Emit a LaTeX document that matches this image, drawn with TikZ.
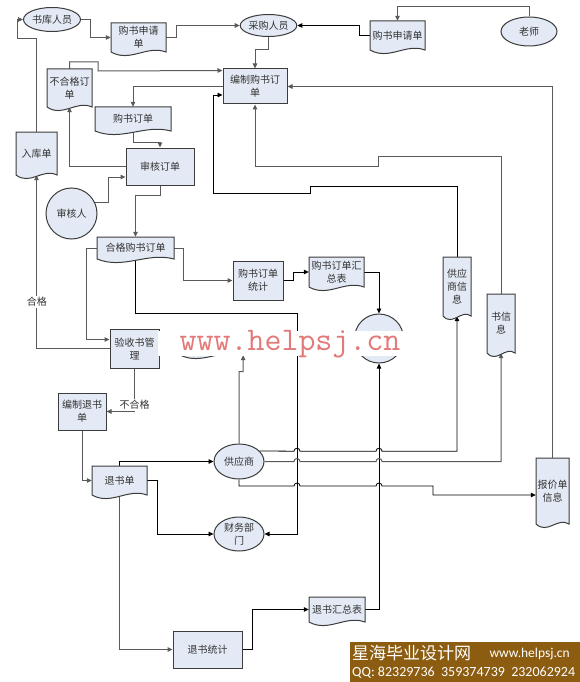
\documentclass[tikz,border=0pt]{standalone}
\usepackage{fontspec}
\newfontfamily\cjkfont{Noto Sans CJK SC}
\newfontfamily\carlfont{Carlito}
\usetikzlibrary{arrows.meta,shapes.geometric,calc}
\pgfdeclarelayer{bg}\pgfdeclarelayer{fg}\pgfsetlayers{bg,main,fg}
\definecolor{shapefill}{RGB}{228,234,245}
\definecolor{shapeline}{RGB}{60,60,60}
\definecolor{linegray}{RGB}{90,90,90}
\definecolor{txt}{RGB}{50,50,50}
\definecolor{wm}{RGB}{226,122,122}
\definecolor{banner}{RGB}{140,92,16}
\tikzset{
  lbl/.style={font=\cjkfont\fontsize{10}{13}\selectfont, text=txt, align=center, inner sep=0pt},
  procbox/.style={lbl, rectangle, draw=shapeline, fill=shapefill, line width=1pt},
  ellbox/.style={lbl, ellipse, draw=shapeline, fill=shapefill, line width=1pt},
  circbox/.style={lbl, circle, draw=shapeline, fill=shapefill, line width=1pt},
  docstyle/.style={draw=shapeline, fill=shapefill, line width=1pt, line join=miter},
  conn/.style={draw=linegray, line width=1pt, -{Triangle[length=5pt,width=4.5pt]}},
  connb/.style={draw=black, line width=0.8pt, -{Triangle[length=5pt,width=4.5pt]}},
  edgelbl/.style={lbl, fill=white, inner sep=1pt}
}
\newcommand\rectnode[6]{%
  \pgfmathsetmacro\rcx{(#2+#4)/2}\pgfmathsetmacro\rcy{(#3+#5)/2}%
  \pgfmathsetmacro\rw{#4-#2}\pgfmathsetmacro\rh{#5-#3}%
  \node[procbox, minimum width=\rw pt, minimum height=\rh pt] (#1) at (\rcx,\rcy) {#6};}
\newcommand\ellnode[6]{%
  \node[ellbox, minimum width=#4pt, minimum height=#5pt] (#1) at (#2,#3) {#6};}
\newcommand\docnode[6]{%
  \pgfmathsetmacro\dw{#4-#2}\pgfmathsetmacro\dh{#5-#3}%
  \pgfmathsetmacro\dcx{(#2+#4)/2}\pgfmathsetmacro\dcy{(#3+#5)/2}%
  \pgfmathsetmacro\dca{#2+0.35*\dw}\pgfmathsetmacro\dcb{#2+0.65*\dw}%
  \pgfmathsetmacro\dya{#5+10.8}\pgfmathsetmacro\dyb{#5-7.2}%
  \draw[docstyle] (#2,#3) -- (#4,#3) -- (#4,#5) .. controls (\dcb,\dyb) and (\dca,\dya) .. (#2,#5) -- cycle;
  \node[lbl, minimum width=\dw pt, minimum height=\dh pt] (#1) at (\dcx,\dcy) {#6};}
\begin{document}
\begin{tikzpicture}[x=1pt,y=-1pt]
\useasboundingbox (0,0) rectangle (580,682);
% ---------- nodes ----------
\ellnode{shuku}{52}{19.5}{57}{24}{书库人员}
\docnode{sqd1}{111}{23}{166}{52}{购书申请\\单}
\ellnode{caigou}{268.5}{25.5}{55}{22}{采购人员}
\docnode{sqd2}{370}{21}{425}{50}{购书申请单}
\ellnode{laoshi}{529}{31.5}{56}{29}{老师}
\rectnode{bzgsdd}{223}{69}{287}{104}{编制购书订\\单}
\docnode{bhg}{47}{69}{92}{107}{不合格订\\单}
\docnode{gsdd}{95}{107}{171}{131}{购书订单}
\rectnode{shdd}{126}{148}{194}{185}{审核订单}
\docnode{rkd}{16}{132}{57}{175}{入库单}
\node[circbox, minimum size=51pt] (shr) at (71.5,213.5) {审核人};
\docnode{hggsdd}{97}{237}{174}{259}{合格购书订单}
\rectnode{gsddtj}{233}{261}{283}{300}{购书订单\\统计}
\docnode{hzb}{309}{257}{364}{287}{购书订单汇\\总表}
\docnode{gysxx}{443}{257}{471}{316}{供应\\商信\\息}
\docnode{sxx}{487}{294}{515}{353}{书信\\息}
\node[circbox, minimum size=49pt] (store) at (379,338.5) {};
\rectnode{ysgl}{110}{329}{159}{368}{验收书管\\理}
\docnode{hid}{180}{332}{243}{355}{}
\rectnode{bzts}{58}{393}{106}{430}{编制退书\\单}
\docnode{tsd}{92}{466}{147}{495}{退书单}
\ellnode{gys}{239}{461.5}{50}{35}{供应商}
\ellnode{cwbm}{239}{534}{50}{34}{财务部\\门}
\rectnode{tstj}{173}{631}{242}{668}{退书统计}
\docnode{tshzb}{309}{597}{365}{622}{退书汇总表}
\docnode{bjd}{536}{458}{569}{524}{报价单\\信息}
\node[edgelbl] (lhg) at (37,302) {合格};
\node[edgelbl] (lbhg) at (134.5,405) {不合格};
% ---------- connectors ----------
\begin{pgfonlayer}{bg}
\fill[white] (0,0) rectangle (580,682);
\draw[conn] (shuku.east) -- ++(9,0) |- (sqd1.west);
\draw[conn] (sqd1.east) -- ++(10,0) |- (caigou.west);
\draw[connb] (sqd2.west) -- ++(-10,0) |- (caigou.east);
\draw[conn] (laoshi.north) -- ++(0,-10) -| (sqd2.north);
\draw[conn] (caigou.south) -- ++(0,13) -| (bzgsdd.north);
\draw[conn] (bhg.north) -- ++(0,-7) -| (98,71) -- ([yshift=-2pt]bzgsdd.north west);
\draw[conn] (bzgsdd.west) -| (gsdd.north);
\draw[conn] (gsdd.south) -- ++(0,11) -| (shdd.north);
\draw[conn] (shdd.west) -| (bhg.south);
\draw[conn] (shr.25) -| (108,177) -- ([yshift=-10.5pt]shdd.west);
\draw[conn] (shdd.south) -- ++(0,10) -| (hggsdd.north);
\draw[conn] (hggsdd.west) -- ++(-10,0) |- ([yshift=9pt]ysgl.west);
\draw[conn] (hggsdd.east) -- ++(9,0) |- (gsddtj.west);
\draw[connb] (hggsdd.south) |- (297,313) |- (cwbm.east);
\draw[connb] (gsddtj.east) -- ++(10,0) |- (hzb.west);
\draw[connb] (hzb.east) -| (store.north);
\draw[connb] (tshzb.east) -| (store.south);
\draw[conn] (ysgl.west) -| (rkd.south);
\draw[conn] (rkd.north) |- (17,39) |- (shuku.west);
\draw[conn] (ysgl.south) |- (bzts.east);
\draw[conn] (bzts.south) |- (tsd.west);
\draw[connb] (tsd.north) |- (gys.west);
\draw[connb] (tsd.east) -- ++(10,0) |- (cwbm.west);
\draw[conn] (tsd.south) |- (tstj.west);
\draw[connb] (tstj.east) -- ++(10,0) |- (tshzb.west);
\draw[conn] (gys.north) -- ++(0,-72) -- ++(4,0) -- (hid.south east);
\draw[connb] (gys.27) -- (294,451.2) arc[start angle=180,end angle=0,radius=3pt]
   -- (376,451.2) arc[start angle=180,end angle=0,radius=3pt] -- (457,451.2) -- (gysxx.south);
\draw[conn] (gys.east) -- (294,461.5) arc[start angle=180,end angle=0,radius=3pt]
   -- (376,461.5) arc[start angle=180,end angle=0,radius=3pt] -- (501,461.5) -- (sxx.south);
\draw[connb] (gys.south) -- (239,486) -- (294,486) arc[start angle=180,end angle=0,radius=3pt]
   -- (376,486) arc[start angle=180,end angle=0,radius=3pt] -- (433,486) |- ([yshift=-4pt]bjd.west);
\draw[connb] (gysxx.north) |- (310,186) |- (213,193) |- ([yshift=-8.5pt]bzgsdd.west);
\draw[conn] (sxx.north) |- (378,156) |- (255,166) -- (bzgsdd.south);
\draw[conn] (bjd.north) |- (bzgsdd.east);
\end{pgfonlayer}
% ---------- watermark and banner ----------
\begin{pgfonlayer}{fg}
\fill[white] (158,331) rectangle (410,356);
\node[font=\fontsize{33}{36}\ttfamily, text=wm, anchor=base, inner sep=0] (wmk) at (290,350) {www.helpsj.cn};
\fill[banner] (350,642) rectangle (580,682);
\node[font=\cjkfont\fontsize{17}{17}\selectfont, text=white, anchor=west, inner sep=0] (bn1) at (352,653) {星海毕业设计网};
\node[font=\carlfont\fontsize{13.5}{14}\selectfont, text=white, anchor=east, inner sep=0] (bn2) at (570,654) {www.helpsj.cn};
\node[font=\carlfont\fontsize{14}{14}\selectfont, text=white, anchor=west, inner sep=0] (bn3) at (352,673) {QQ: 82329736\ \ 359374739\ \ 232062924};
\end{pgfonlayer}
\end{tikzpicture}
\end{document}
